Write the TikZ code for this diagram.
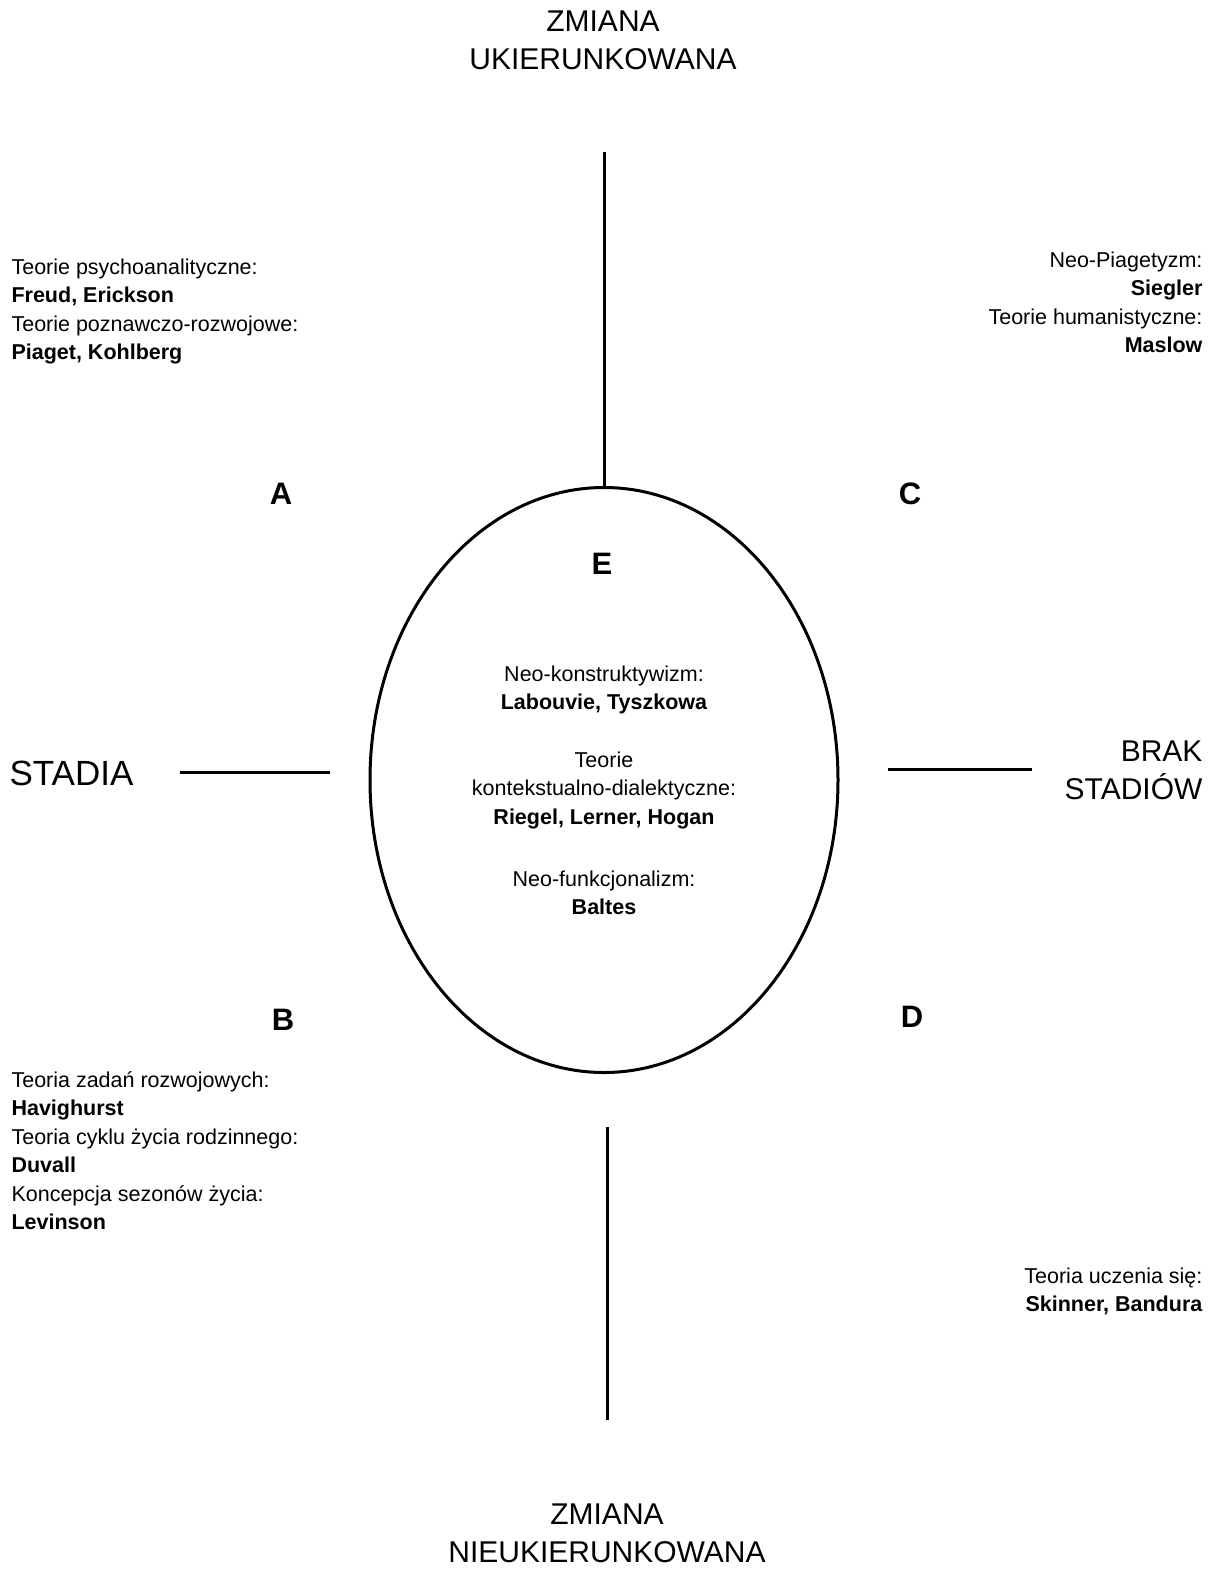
\documentclass[tikz,border=0pt]{standalone}
\usepackage{fontspec}
\setmainfont{Liberation Sans}
\usepackage{tikz}
\usetikzlibrary{shapes.geometric}

\begin{document}
\begin{tikzpicture}[x=1pt, y=1pt,
    axis/.style={line width=3pt},
    big/.style={font=\fontsize{30}{38}\selectfont, align=center},
    small/.style={font=\fontsize{21.5}{28.5}\selectfont},
    quad/.style={font=\fontsize{31}{31}\selectfont\bfseries}]
  \useasboundingbox (0,0) rectangle (1221,-1572);
  \fill[white] (0,0) rectangle (1221,-1572);

  % ellipse in the middle
  \node[draw, ellipse, line width=3pt, minimum width=468pt, minimum height=585pt,
        inner sep=0pt] (ell) at (604,-780) {};

  % axes
  \node[big] (up) at (603,-40) {ZMIANA\\UKIERUNKOWANA};
  \node[big] (down) at (607,-1533) {ZMIANA\\NIEUKIERUNKOWANA};
  \node[big, font=\fontsize{35}{38}\selectfont, anchor=west] (stadia) at (6,-773) {STADIA};
  \node[big, anchor=east, align=right] (brak) at (1206,-770) {BRAK\\STADIÓW};
  \coordinate (uptop) at (604,-152);
  \coordinate (dntop) at (607,-1127);
  \coordinate (dnbot) at (607,-1420);
  \coordinate (lfa) at (180,-772);
  \coordinate (lfb) at (330,-772);
  \coordinate (rta) at (888,-769);
  \coordinate (rtb) at (1032,-769);
  \draw[axis] (uptop) -- (ell.north);
  \draw[axis] (dntop) -- (dnbot);
  \draw[axis] (lfa) -- (lfb);
  \draw[axis] (rta) -- (rtb);

  % quadrant letters
  \node[quad] (qa) at (281,-494) {A};
  \node[quad] (qc) at (910,-494) {C};
  \node[quad] (qe) at (602,-564) {E};
  \node[quad] (qb) at (283,-1020) {B};
  \node[quad] (qd) at (912,-1017) {D};

  % theories
  \node[small, anchor=north west, align=left] (ta) at (8,-255)
    {Teorie psychoanalityczne:\\\textbf{Freud, Erickson}\\
     Teorie poznawczo-rozwojowe:\\\textbf{Piaget, Kohlberg}};
  \node[small, anchor=north east, align=right] (tc) at (1206,-248)
    {Neo-Piagetyzm:\\\textbf{Siegler}\\
     Teorie humanistyczne:\\\textbf{Maslow}};
  \node[small, anchor=north west, align=left] (tb) at (8,-1068)
    {Teoria zadań rozwojowych:\\\textbf{Havighurst}\\
     Teoria cyklu życia rodzinnego:\\\textbf{Duvall}\\
     Koncepcja sezonów życia:\\\textbf{Levinson}};
  \node[small, anchor=north east, align=right] (td) at (1206,-1264)
    {Teoria uczenia się:\\\textbf{Skinner, Bandura}};
  \node[small, align=center] (te1) at (604,-690)
    {Neo-konstruktywizm:\\\textbf{Labouvie, Tyszkowa}};
  \node[small, align=center] (te2) at (604,-790)
    {Teorie\\kontekstualno-dialektyczne:\\\textbf{Riegel, Lerner, Hogan}};
  \node[small, align=center] (te3) at (604,-893)
    {Neo-funkcjonalizm:\\\textbf{Baltes}};
\end{tikzpicture}
\end{document}
